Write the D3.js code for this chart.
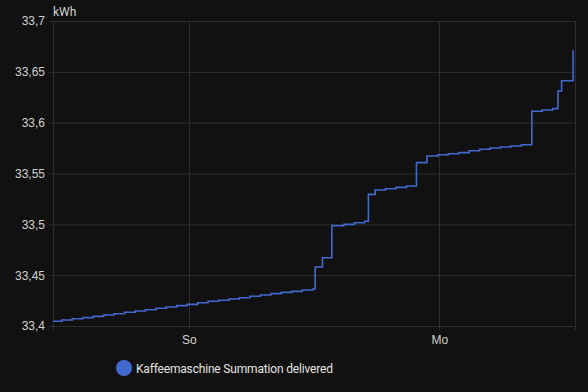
<!DOCTYPE html>
<html>
<head>
<meta charset="utf-8">
<script src="https://cdn.jsdelivr.net/npm/d3@7"></script>
<style>
  html, body { margin: 0; padding: 0; background: #111111; }
  svg { display: block; font-family: Roboto, "Noto Sans", sans-serif; }
</style>
</head>
<body>
<svg id="chart" width="588" height="392"></svg>
<script>
// ---- data ----
const seriesName = "Kaffeemaschine Summation delivered";
const unit = "kWh";
const times = [
  "2024-03-02 11:00", "2024-03-02 11:51", "2024-03-02 12:51", "2024-03-02 13:51",
  "2024-03-02 14:51", "2024-03-02 15:51", "2024-03-02 16:51", "2024-03-02 17:51",
  "2024-03-02 18:51", "2024-03-02 19:51", "2024-03-02 20:51", "2024-03-02 21:51",
  "2024-03-02 22:51", "2024-03-02 23:51", "2024-03-03 00:51", "2024-03-03 01:51",
  "2024-03-03 02:51", "2024-03-03 03:51", "2024-03-03 04:51", "2024-03-03 05:51",
  "2024-03-03 06:51", "2024-03-03 07:51", "2024-03-03 08:51", "2024-03-03 09:51",
  "2024-03-03 10:51", "2024-03-03 11:51", "2024-03-03 12:06", "2024-03-03 12:48",
  "2024-03-03 13:42", "2024-03-03 14:51", "2024-03-03 15:51", "2024-03-03 16:51",
  "2024-03-03 17:12", "2024-03-03 17:51", "2024-03-03 18:51", "2024-03-03 19:51",
  "2024-03-03 20:51", "2024-03-03 21:48", "2024-03-03 22:48", "2024-03-03 23:51",
  "2024-03-04 00:51", "2024-03-04 01:51", "2024-03-04 02:51", "2024-03-04 03:51",
  "2024-03-04 04:51", "2024-03-04 05:51", "2024-03-04 06:51", "2024-03-04 07:51",
  "2024-03-04 08:51", "2024-03-04 09:51", "2024-03-04 10:51", "2024-03-04 11:21",
  "2024-03-04 11:42", "2024-03-04 12:48"
];
const values = [
  33.4046, 33.4059, 33.4072, 33.4082,
  33.4095, 33.4108, 33.4121, 33.4135,
  33.4148, 33.4160, 33.4174, 33.4187,
  33.4200, 33.4213, 33.4229, 33.4243,
  33.4253, 33.4266, 33.4278, 33.4292,
  33.4305, 33.4318, 33.4331, 33.4341,
  33.4354, 33.4364, 33.4580, 33.4672,
  33.4987, 33.5000, 33.5016, 33.5030,
  33.5295, 33.5338, 33.5350, 33.5364,
  33.5377, 33.5607, 33.5672, 33.5685,
  33.5695, 33.5705, 33.5724, 33.5738,
  33.5751, 33.5761, 33.5770, 33.5783,
  33.6112, 33.6125, 33.6138, 33.6311,
  33.6413, 33.6715
];
const xDomain = ["2024-03-02 11:00", "2024-03-04 12:56"];
const xTickTimes = ["2024-03-03 00:00", "2024-03-04 00:00"];
const xTickLabels = ["So", "Mo"];
const yDomain = [33.4, 33.7];
const yTicks = [33.4, 33.45, 33.5, 33.55, 33.6, 33.65, 33.7];

// ---- drawing ----
const W = 588, H = 392;
const margin = { top: 21, right: 13.5, bottom: 66, left: 53 };
const parse = d3.timeParse("%Y-%m-%d %H:%M");
const data = times.map((t, i) => ({ t: parse(t), v: values[i] }));

const svg = d3.select("#chart");
const x = d3.scaleTime().domain(xDomain.map(parse)).range([margin.left, W - margin.right]);
const y = d3.scaleLinear().domain(yDomain).range([H - margin.bottom, margin.top]);

const gridColor = "#2e2e2e";
const textColor = "#d0d0d0";

// horizontal grid + y labels
const yAxis = svg.append("g")
  .attr("transform", `translate(${margin.left},0)`)
  .call(d3.axisLeft(y).tickValues(yTicks).tickSize(4).tickPadding(2)
    .tickFormat(d => String(+d.toFixed(2)).replace(".", ",")));
yAxis.select(".domain").remove();
yAxis.selectAll(".tick line").attr("stroke", gridColor).attr("x2", -4).attr("x1", W - margin.right - margin.left);
yAxis.selectAll(".tick text").attr("fill", textColor).attr("font-size", 12).attr("dx", -2);

// vertical grid + x labels
const xTicksAll = [x.domain()[0], ...xTickTimes.map(parse), x.domain()[1]];
svg.append("g").selectAll("line").data(xTicksAll).join("line")
  .attr("x1", d => Math.round(x(d)) + 0.5).attr("x2", d => Math.round(x(d)) + 0.5)
  .attr("y1", margin.top).attr("y2", H - margin.bottom + 4)
  .attr("stroke", gridColor);

const xAxis = svg.append("g")
  .attr("transform", `translate(0,${H - margin.bottom})`)
  .call(d3.axisBottom(x).tickValues(xTickTimes.map(parse)).tickSize(0).tickPadding(9)
    .tickFormat((d, i) => xTickLabels[i]));
xAxis.select(".domain").remove();
xAxis.selectAll(".tick text").attr("fill", textColor).attr("font-size", 12);

// unit label
svg.append("text").attr("x", margin.left).attr("y", 16)
  .attr("fill", textColor).attr("font-size", 12).text(unit);

// line
const lineColor = "#4269d0";
svg.append("path").datum(data)
  .attr("fill", "none").attr("stroke", lineColor).attr("stroke-width", 1.6)
  .attr("d", d3.line().curve(d3.curveStepAfter).x(d => x(d.t)).y(d => y(d.v)));

// legend
const lg = svg.append("g");
lg.append("circle").attr("cx", 124).attr("cy", 368).attr("r", 8).attr("fill", lineColor);
lg.append("text").attr("x", 136).attr("y", 373).attr("fill", "#e3e3e3")
  .attr("font-size", 12).attr("textLength", 197).attr("lengthAdjust", "spacing")
  .text(seriesName);
</script>
</body>
</html>
